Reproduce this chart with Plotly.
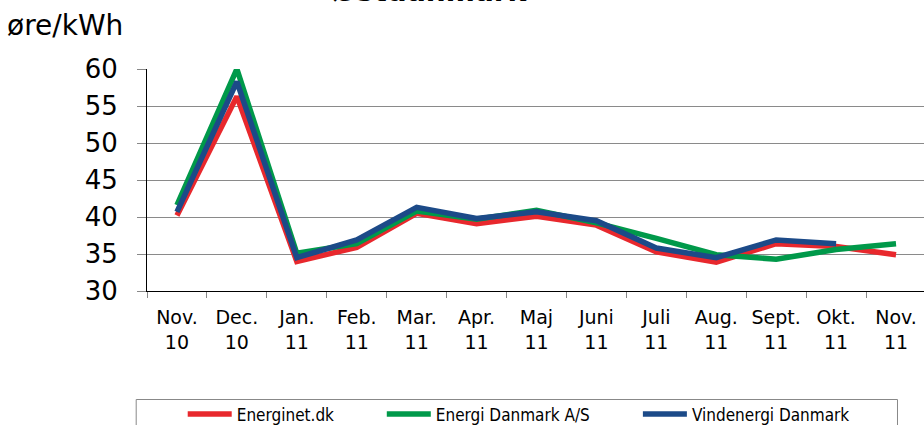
import plotly.graph_objects as go

categories = ["Nov.<br>10", "Dec.<br>10", "Jan.<br>11", "Feb.<br>11", "Mar.<br>11", "Apr.<br>11",
              "Maj<br>11", "Juni<br>11", "Juli<br>11", "Aug.<br>11", "Sept.<br>11", "Okt.<br>11", "Nov.<br>11"]
energinet = [40.2, 56.3, 34.0, 35.9, 40.5, 39.1, 40.1, 38.9, 35.3, 33.9, 36.4, 36.0, 34.9]
energi_danmark = [41.6, 60.0, 35.1, 36.4, 40.8, 39.7, 40.9, 39.2, 37.1, 34.9, 34.3, 35.6, 36.4]
vindenergi = [40.7, 58.3, 34.5, 36.9, 41.3, 39.8, 40.7, 39.5, 35.8, 34.5, 36.9, 36.4, None]
y_ticks = [30, 35, 40, 45, 50, 55, 60]

FONT = "DejaVu Sans"
LFONT = "DejaVu Sans Condensed, DejaVu Sans"
W, H = 924, 425
L, T, B = 147.3, 69, 134
R = 0
pw = W - L - R
ph = H - T - B

def px_x(p):
    return (p - L) / pw

def px_y(p):
    return (H - B - p) / ph

fig = go.Figure()
series = [
    ("Energinet.dk", energinet, "#E8282D", "legend"),
    ("Energi Danmark A/S", energi_danmark, "#00994A", "legend2"),
    ("Vindenergi Danmark", vindenergi, "#1C4A88", "legend3"),
]
for name, vals, col, lg in series:
    fig.add_trace(go.Scatter(x=categories, y=vals, mode="lines", name=name,
                             line=dict(color=col, width=5.5), legend=lg))

leg_common = dict(orientation="h", yanchor="middle", xanchor="left",
                  font=dict(family=LFONT, size=17, color="#000"),
                  bgcolor="rgba(0,0,0,0)", borderwidth=0, itemwidth=44)
fig.update_layout(
    width=W, height=H,
    margin=dict(l=L, r=R, t=T, b=B, pad=0, autoexpand=False),
    plot_bgcolor="white", paper_bgcolor="white",
    font=dict(family=FONT, color="#000"),
    xaxis=dict(type="category", range=[-0.5, 12.467], tickson="boundaries",
               ticks="outside", ticklen=6, tickcolor="#888", showgrid=False,
               showline=True, linecolor="#000", linewidth=1, automargin=False,
               ticklabelstandoff=9,
               tickfont=dict(family=FONT, size=19, color="#000")),
    yaxis=dict(range=[30, 60], tickvals=y_ticks, ticks="outside", ticklen=9,
               tickcolor="#888", showgrid=True, gridcolor="#8a8a8a", gridwidth=1,
               showline=True, linecolor="#000", linewidth=1, zeroline=False,
               ticklabelstandoff=14, automargin=False,
               tickfont=dict(family=FONT, size=26, color="#000")),
    legend=dict(**leg_common, x=px_x(183), y=px_y(414.5)),
    legend2=dict(**leg_common, x=px_x(382), y=px_y(414.5)),
    legend3=dict(**leg_common, x=px_x(638), y=px_y(414.5)),
    showlegend=True,
)

fig.add_shape(type="rect", xref="paper", yref="paper",
              x0=px_x(136.5), x1=px_x(897.5), y0=px_y(399.5), y1=px_y(460),
              line=dict(color="#888", width=1), fillcolor="rgba(0,0,0,0)")

fig.add_annotation(text="øre/kWh", xref="paper", yref="paper", x=px_x(5), y=px_y(25),
                   xanchor="left", yanchor="middle", showarrow=False,
                   font=dict(family=FONT, size=28, color="#000"))
fig.add_annotation(text="<b>Østdanmark</b>", xref="paper", yref="paper", x=px_x(431), y=px_y(10),
                   xanchor="center", yanchor="bottom", showarrow=False,
                   font=dict(family=FONT, size=28, color="#000"))

fig.write_html("out.html", config={"displayModeBar": False},
               post_script="document.body.style.margin='0';document.body.style.overflow='hidden';")
